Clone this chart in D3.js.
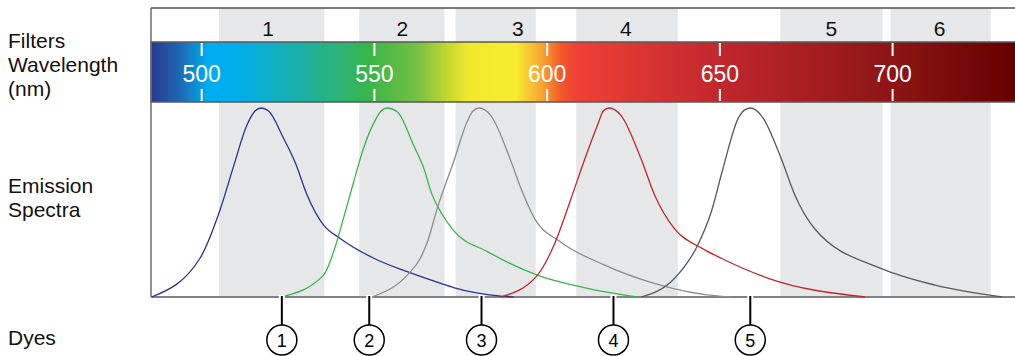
<!DOCTYPE html>
<html>
<head>
<meta charset="utf-8">
<script src="https://cdn.jsdelivr.net/npm/d3@7"></script>
<style>
  body { margin: 0; background: #fff; }
  svg { display: block; font-family: "Liberation Sans", Arial, sans-serif; }
</style>
</head>
<body>
<div id="chart"></div>
<script>
// filter bands (nm)
const filterNames = ["1", "2", "3", "4", "5", "6"];
const filterStart = [505, 545.6, 573.5, 608.4, 667.5, 699.4];
const filterEnd = [535.5, 570.3, 596.7, 637.8, 697.1, 728.4];
const filterLabelNm = [519.2, 558.1, 591.5, 622.8, 682.3, 713.6];

const wavelengthTicks = [500, 550, 600, 650, 700];

// colour bar stops: wavelength, colour
const barStopNm = [485.3, 494, 501.8, 509.7, 527.9, 538.7, 548.3, 561.9, 571.5, 577.3, 590.9, 598.4, 604, 608.3, 650.4, 702.6, 736];
const barStopColor = ["#2b3990", "#1c6ab5", "#00aeef", "#00aeef", "#1ab0a8", "#2bb37a", "#39b54a", "#72bf44",
  "#c6d92f", "#f1e92e", "#f7ec2f", "#f7a534", "#f15a29", "#ef4136", "#c1272d", "#8a1414", "#650000"];

// emission spectra, [wavelength nm, relative intensity]
const dye1 = [[485.5, 0], [499.5, 0.205], [505.3, 0.46], [509.2, 0.69], [513.1, 0.91], [515.5, 0.985], [517.2, 1],
  [519.3, 0.985], [523.7, 0.84], [527.1, 0.71], [530.5, 0.54], [535.3, 0.38], [540.1, 0.31], [549.8, 0.205],
  [559.5, 0.134], [569.2, 0.072], [572.9, 0.05], [586.6, 0.005], [590.3, 0]];
const dye2 = [[523.2, 0], [535.3, 0.116], [538.2, 0.24], [541.1, 0.42], [544, 0.61], [546.9, 0.79], [549.8, 0.92],
  [552, 0.985], [553.7, 1], [556.6, 0.98], [561.4, 0.8], [564.5, 0.67], [566.3, 0.56], [569.2, 0.45], [573, 0.35],
  [582.7, 0.24], [597.2, 0.116], [611.7, 0.046], [626.2, 0]];
const dye3 = [[549.3, 0], [559.5, 0.116], [563.3, 0.205], [565.5, 0.3], [568.2, 0.47], [573, 0.72], [576.9, 0.93],
  [578.6, 0.985], [580.3, 1], [583.7, 0.96], [589.5, 0.72], [592.4, 0.575], [596.2, 0.42], [604, 0.29],
  [616.5, 0.17], [631, 0.072], [650.4, 0.003], [653.3, 0]];
const dye4 = [[586.6, 0], [597.2, 0.116], [602, 0.275], [606.9, 0.52], [610.7, 0.72], [614.6, 0.91], [616.3, 0.985],
  [618, 1], [621.4, 0.96], [627.2, 0.73], [631.1, 0.54], [636.9, 0.36], [644.6, 0.26], [650.4, 0.205],
  [664, 0.099], [692, 0]];
const dye5 = [[627.2, 0], [636.9, 0.099], [643.6, 0.275], [647.5, 0.45], [650.9, 0.68], [655.3, 0.945], [657.2, 0.99],
  [658.9, 1], [662, 0.96], [667.8, 0.73], [671.7, 0.54], [677.5, 0.36], [696.8, 0.15], [712.3, 0.063], [731.7, 0]];
const spectra = [dye1, dye2, dye3, dye4, dye5];
const spectraColors = ["#2e3192", "#39b54a", "#8c8c8c", "#c1272d", "#58595b"];

// dye markers
const dyeNames = ["1", "2", "3", "4", "5"];
const dyePos = [523.2, 548.5, 581, 619.2, 658.8];

const width = 1015, height = 356;
const plotLeft = 151, plotTop = 8, barTop = 42, barBottom = 102, base = 297;

const x = d3.scaleLinear().domain([500, 700]).range([201.7, 892.6]);
const y = d3.scaleLinear().domain([0, 1]).range([base, 108]);

const svg = d3.select("#chart").append("svg")
  .attr("width", width)
  .attr("height", height);

// filter bands
svg.append("g")
  .selectAll("rect")
  .data(filterNames)
  .join("rect")
  .attr("x", (d, i) => x(filterStart[i]))
  .attr("width", (d, i) => x(filterEnd[i]) - x(filterStart[i]))
  .attr("y", plotTop)
  .attr("height", base - plotTop)
  .attr("fill", "#e6e7e8");

svg.append("g")
  .attr("font-size", 21)
  .attr("text-anchor", "middle")
  .selectAll("text")
  .data(filterNames)
  .join("text")
  .attr("x", (d, i) => x(filterLabelNm[i]))
  .attr("y", 35.5)
  .attr("fill", "#111")
  .text(d => d);

// colour bar
const grad = svg.append("defs").append("linearGradient")
  .attr("id", "spec")
  .attr("gradientUnits", "userSpaceOnUse")
  .attr("x1", plotLeft).attr("x2", width)
  .attr("y1", 0).attr("y2", 0);
grad.selectAll("stop")
  .data(barStopNm)
  .join("stop")
  .attr("offset", d => Math.max(0, Math.min(1, (x(d) - plotLeft) / (width - plotLeft))))
  .attr("stop-color", (d, i) => barStopColor[i]);

svg.append("rect")
  .attr("x", plotLeft)
  .attr("y", barTop)
  .attr("width", width - plotLeft + 2)
  .attr("height", barBottom - barTop)
  .attr("fill", "url(#spec)")
  .attr("stroke", "#58595b")
  .attr("stroke-width", 1.5);

const tk = svg.append("g").attr("stroke", "#fff").attr("stroke-width", 2);
tk.selectAll(".t1").data(wavelengthTicks).join("line")
  .attr("x1", d => x(d)).attr("x2", d => x(d))
  .attr("y1", barTop + 1).attr("y2", 56);
tk.selectAll(".t2").data(wavelengthTicks).join("line")
  .attr("x1", d => x(d)).attr("x2", d => x(d))
  .attr("y1", 89).attr("y2", barBottom - 1);

svg.append("g")
  .attr("font-size", 23)
  .attr("text-anchor", "middle")
  .attr("fill", "#fff")
  .selectAll("text")
  .data(wavelengthTicks)
  .join("text")
  .attr("x", d => x(d))
  .attr("y", 81.5)
  .text(d => d);

// frame
svg.append("line")
  .attr("x1", plotLeft).attr("x2", width)
  .attr("y1", plotTop).attr("y2", plotTop)
  .attr("stroke", "#4d4d4d").attr("stroke-width", 1.5);
svg.append("line")
  .attr("x1", plotLeft).attr("x2", plotLeft)
  .attr("y1", plotTop).attr("y2", base)
  .attr("stroke", "#6d6e70").attr("stroke-width", 1.5);
svg.append("line")
  .attr("x1", plotLeft).attr("x2", width)
  .attr("y1", base).attr("y2", base)
  .attr("stroke", "#808285").attr("stroke-width", 2);

// spectra
const line = d3.line()
  .x(d => x(d[0]))
  .y(d => y(d[1]))
  .curve(d3.curveMonotoneX);

svg.append("g")
  .attr("fill", "none")
  .attr("stroke-width", 1.3)
  .selectAll("path")
  .data(spectra)
  .join("path")
  .attr("stroke", (d, i) => spectraColors[i])
  .attr("d", line);

// dye markers
const dyes = svg.append("g")
  .selectAll("g")
  .data(dyeNames)
  .join("g")
  .attr("transform", (d, i) => `translate(${x(dyePos[i])},0)`);

dyes.append("line")
  .attr("y1", base - 2).attr("y2", base + 2)
  .attr("stroke", "#fff").attr("stroke-width", 6);
dyes.append("line")
  .attr("y1", base - 1).attr("y2", 325)
  .attr("stroke", "#000").attr("stroke-width", 2);
dyes.append("circle")
  .attr("cy", 340)
  .attr("r", 15)
  .attr("fill", "#fff")
  .attr("stroke", "#000")
  .attr("stroke-width", 1.5);
dyes.append("text")
  .attr("y", 346.5)
  .attr("text-anchor", "middle")
  .attr("font-size", 18)
  .text(d => d);

// row labels
const rowLabels = ["Filters", "Wavelength", "(nm)", "Emission", "Spectra", "Dyes"];
const rowLabelY = [47.5, 71.5, 95.5, 192.5, 216.5, 344.5];
svg.append("g")
  .attr("font-size", 21)
  .attr("fill", "#111")
  .selectAll("text")
  .data(rowLabels)
  .join("text")
  .attr("x", 8)
  .attr("y", (d, i) => rowLabelY[i])
  .text(d => d);
</script>
</body>
</html>
